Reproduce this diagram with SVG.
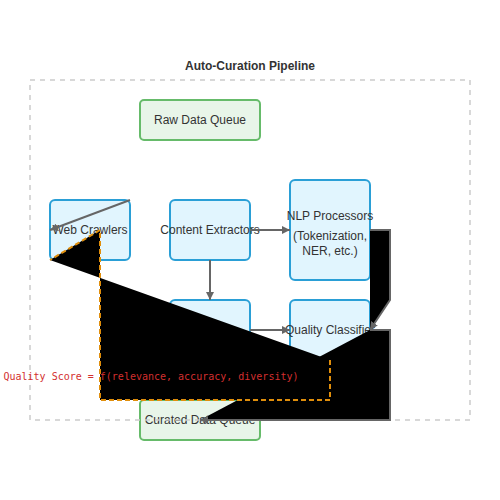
<svg xmlns="http://www.w3.org/2000/svg" width="500" height="500" viewBox="0 0 500 500">
<style>
.title{font-family:"Liberation Sans",Arial,sans-serif;font-size:12px;font-weight:bold;fill:#333;text-anchor:middle}
.lbl{font-family:"Liberation Sans",Arial,sans-serif;font-size:12px;fill:#333;text-anchor:middle}
.proc rect{fill:#e1f5fe;stroke:#2a9fd6;stroke-width:2}
.queue rect{fill:#e8f5e9;stroke:#66bb6a;stroke-width:2}
.conn{stroke:#666;stroke-width:2}
.fb{stroke:#e08e0b;stroke-width:2;stroke-dasharray:5,3}
.formula{font-family:"DejaVu Sans Mono","Liberation Mono",monospace;font-size:10px;fill:#d32f2f;text-anchor:middle}
</style>
<defs>
<marker id="arr" markerWidth="8" markerHeight="8" refX="8" refY="4" orient="auto" markerUnits="userSpaceOnUse">
<path d="M0,0 L8,4 L0,8 z" fill="#666"/>
</marker>
</defs>
<rect width="500" height="500" fill="#fff"/>
<text class="title" x="250" y="70">Auto-Curation Pipeline</text>
<g id="raw-data-queue" class="queue"><rect x="140" y="100" width="120" height="40" rx="4"/><text class="lbl" x="200" y="124">Raw Data Queue</text></g>
<g id="web-crawlers" class="proc"><rect x="50" y="200" width="80" height="60" rx="5"/><text class="lbl" x="90" y="234">Web Crawlers</text></g>
<g id="content-extractors" class="proc"><rect x="170" y="200" width="80" height="60" rx="5"/><text class="lbl" x="210" y="234">Content Extractors</text></g>
<g id="nlp-processors" class="proc"><rect x="290" y="180" width="80" height="100" rx="5"/><text class="lbl" x="330" y="220">NLP Processors</text><text class="lbl" x="330" y="240">(Tokenization,</text><text class="lbl" x="330" y="255">NER, etc.)</text></g>
<g id="filter-node" class="proc"><rect x="170" y="300" width="80" height="60" rx="5"/></g>
<g id="quality-classifier" class="proc"><rect x="290" y="300" width="80" height="60" rx="5"/><text class="lbl" x="330" y="334">Quality Classifier</text></g>
<g id="curated-data-queue" class="queue"><rect x="140" y="400" width="120" height="40" rx="4"/><text class="lbl" x="200" y="424">Curated Data Queue</text></g>
<rect id="container" x="30" y="80" width="440" height="340" fill="none" stroke="#ccc" stroke-width="1.5" stroke-dasharray="5,5"/>
<g id="connectors">
<path class="conn" d="M130,200 L50,230" fill="none" marker-end="url(#arr)"/>
<path class="conn" d="M250,230 L290,230" fill="none" marker-end="url(#arr)"/>
<path class="conn" d="M210,260 L210,300" fill="none" marker-end="url(#arr)"/>
<path class="conn" d="M250,330 L290,330" fill="none" marker-end="url(#arr)"/>
<path class="conn" d="M370,230 L390,230 L390,300 L370,330" fill="#000" marker-end="url(#arr)"/>
<path class="conn" d="M370,330 L390,330 L390,420 L200,420" fill="#000" marker-end="url(#arr)"/>
<path class="fb" d="M330,360 L330,400 L100,400 L100,230 L50,260" fill="#000"/>
</g>
<text class="formula" x="151" y="380">Quality Score = f(relevance, accuracy, diversity)</text>
</svg>
